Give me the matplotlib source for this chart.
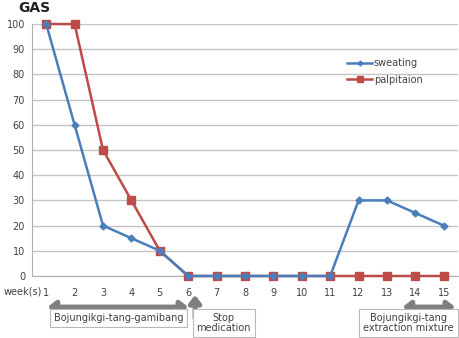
import matplotlib
matplotlib.use("Agg")
import matplotlib.pyplot as plt
from matplotlib.transforms import blended_transform_factory

weeks = list(range(1, 16))
sweating = [100, 60, 20, 15, 10, 0, 0, 0, 0, 0, 0, 30, 30, 25, 20]
palpitation = [100, 100, 50, 30, 10, 0, 0, 0, 0, 0, 0, 0, 0, 0, 0]
yticks = [0, 10, 20, 30, 40, 50, 60, 70, 80, 90, 100]

blue = "#4A7EBB"
red = "#BE4B48"
grey = "#7F7F7F"
txt = "#404040"

plt.rcParams['font.family'] = ['DejaVu Sans']
fig = plt.figure(figsize=(4.6, 3.38), dpi=100)
ax = fig.add_axes([32/460, 1-276/338, 426/460, 252/338])

ax.plot(weeks, sweating, color=blue, lw=1.8, marker='D', ms=3.5, clip_on=False,
        label='sweating', zorder=4)
ax.plot(weeks, palpitation, color=red, lw=1.8, marker='s', ms=6, clip_on=False,
        label='palpitaion', zorder=3)

ax.set_xlim(0.5, 15.5)
ax.set_ylim(0, 100)
ax.set_yticks(yticks)
ax.set_yticklabels([str(v) for v in yticks], fontsize=7, color=txt)
ax.set_xticks(weeks)
ax.set_xticklabels([str(w) for w in weeks], fontsize=7, color=txt)
ax.tick_params(axis='both', length=0)
ax.tick_params(axis='x', pad=9)
ax.tick_params(axis='y', pad=5)
ax.yaxis.grid(True, color='#C4C4C4', lw=1)
ax.set_axisbelow(True)
for s in ['top', 'right']:
    ax.spines[s].set_visible(False)
ax.spines['left'].set_color('#B0B0B0')
ax.spines['bottom'].set_color('#B0B0B0')

leg = ax.legend(loc='upper left', bbox_to_anchor=(0.72, 0.90), frameon=False,
                fontsize=7, handlelength=2.5, handletextpad=0.2,
                labelspacing=0.7, markerscale=0.7)
for t in leg.get_texts():
    t.set_color(txt)

fig.text(18/460, 1-8/338, "GAS", fontsize=10, fontweight='bold', color='#202020',
         va='center', ha='left')

tr = blended_transform_factory(ax.transData, ax.transAxes)
def ay(p):
    return (276 - p) / 252

ax.text(0.17, ay(292), "week(s)", transform=tr, fontsize=7, color=txt,
        ha='center', va='center', clip_on=False)

arrow_kw = dict(arrowstyle='<|-|>,head_width=0.35,head_length=0.45', color=grey, lw=3.5,
                shrinkA=0, shrinkB=0)
ax.annotate("", xy=(1.05, ay(307)), xytext=(6.0, ay(307)), xycoords=tr, textcoords=tr,
            arrowprops=arrow_kw, annotation_clip=False)
ax.annotate("", xy=(13.55, ay(307)), xytext=(15.4, ay(307)), xycoords=tr, textcoords=tr,
            arrowprops=arrow_kw, annotation_clip=False)
ax.annotate("", xy=(6.24, ay(295)), xytext=(6.24, ay(318)), xycoords=tr, textcoords=tr,
            arrowprops=dict(arrowstyle='-|>,head_width=0.35,head_length=0.45', color=grey,
                            lw=3.5, shrinkA=0, shrinkB=0), annotation_clip=False)

box = dict(boxstyle='square,pad=0.4', fc='white', ec='#B8B8B8', lw=0.8)
ax.text(3.55, ay(318), "Bojungikgi-tang-gamibang", transform=tr, fontsize=7, color=txt,
        ha='center', va='center', bbox=dict(boxstyle='square,pad=0.4', fc='white',
        ec='#B8B8B8', lw=0.8), clip_on=False)
ax.text(7.25, ay(323), "Stop\nmedication", transform=tr, fontsize=7, color=txt,
        ha='center', va='center', linespacing=1.0, bbox=box, clip_on=False)
ax.text(13.75, ay(323), "Bojungikgi-tang\nextraction mixture", transform=tr, fontsize=7,
        color=txt, ha='center', va='center', linespacing=1.0, bbox=box, clip_on=False)

fig.savefig("out.png", dpi=100)
